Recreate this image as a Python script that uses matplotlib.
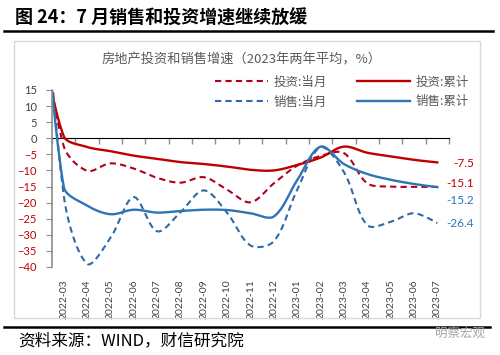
import numpy as np
import matplotlib.pyplot as plt
from matplotlib.lines import Line2D
from matplotlib.patches import Rectangle

plt.rcParams['font.family'] = ['Noto Sans CJK SC', 'DejaVu Sans']

# 2022-02 sits left of the axis, only the top of its line shows
months = ['2022-02', '2022-03', '2022-04', '2022-05', '2022-06', '2022-07', '2022-08',
          '2022-09', '2022-10', '2022-11', '2022-12', '2023-01', '2023-02', '2023-03',
          '2023-04', '2023-05', '2023-06', '2023-07']
inv_month = [40, -2.4, -10.1, -7.8, -9.4, -12.3, -13.8, -12.1, -16.0, -19.9, -14.0,
             -8.5, -5.5, -4.6, -14.0, -15.0, -15.1, -15.1]
inv_cum = [35, 0.7, -2.7, -4.0, -5.4, -6.4, -7.4, -8.0, -8.8, -9.8, -10.0,
           -8.3, -6.0, -2.6, -4.5, -5.6, -6.7, -7.5]
sales_month = [72, -17.7, -39.0, -31.0, -18.3, -28.9, -23.0, -16.2, -23.2, -33.3, -32.0,
               -16.0, -2.8, -10.5, -27.0, -26.0, -23.3, -26.4]
sales_cum = [65, -15.0, -20.9, -23.6, -22.2, -23.1, -22.6, -22.2, -22.3, -23.3, -24.3,
             -13.0, -2.6, -8.0, -11.1, -12.9, -14.2, -15.2]

RED = '#C00000'
RED_D = '#B0001E'
BLUE = '#2E75B6'
BLUE_D = '#2F69A8'
GRAY = '#8C8C8C'
TXT = '#404040'


def smooth(x, y, n=30, sx=23.35, sy=3.22):
    # excel-like smoothed line: bezier arms sized by neighbouring segment lengths
    P = np.column_stack([np.asarray(x, float) * sx, np.asarray(y, float) * sy])
    m = len(P)
    cin = P.copy()
    cout = P.copy()
    for i in range(1, m - 1):
        d = P[i + 1] - P[i - 1]
        l1 = np.linalg.norm(P[i] - P[i - 1])
        l2 = np.linalg.norm(P[i + 1] - P[i])
        cout[i] = P[i] + d * l2 / (l1 + l2) / 3
        cin[i] = P[i] - d * l1 / (l1 + l2) / 3
    t = np.linspace(0, 1, n)[:, None]
    pts = []
    for i in range(m - 1):
        b = ((1 - t) ** 3 * P[i] + 3 * (1 - t) ** 2 * t * cout[i]
             + 3 * (1 - t) * t ** 2 * cin[i + 1] + t ** 3 * P[i + 1])
        pts.append(b)
    pts = np.vstack(pts)
    return pts[:, 0] / sx, pts[:, 1] / sy


fig = plt.figure(figsize=(5, 3.55), dpi=100)

# title and rules
fig.text(0.03, 0.948, '图 24：7 月销售和投资增速继续放缓', fontsize=13, fontweight='bold',
         va='center', ha='left')
fig.add_artist(Line2D([0.008, 0.986], [0.912, 0.912], color='black', lw=1.8))
fig.add_artist(Line2D([0.008, 0.98], [0.079, 0.079], color='black', lw=1.8))
fig.add_artist(Rectangle((0.028, 0.104), 0.932, 0.78, fill=False, edgecolor='#D9D9D9', lw=1))
fig.text(0.036, 0.04, '资料来源：WIND，财信研究院', fontsize=12, style='italic',
         va='center', ha='left', color='black')
fig.text(0.92, 0.062, '明察宏观', fontsize=9, color='#A6A6A6', va='center', ha='center')

fig.text(0.484, 0.831, '房地产投资和销售增速（2023年两年平均，%）', fontsize=9.5,
         color='#595959', ha='center', va='center')

ax = fig.add_axes([0.104, 0.2479, 0.794, 0.4986])
xpos = np.arange(len(months)) - 1

lines = []
for vals, col, ls, lw, lab in [(inv_month, RED_D, (0, (3, 2)), 1.5, '投资:当月'),
                               (sales_month, BLUE_D, (0, (3, 2)), 1.5, '销售:当月'),
                               (inv_cum, RED, '-', 1.7, '投资:累计'),
                               (sales_cum, BLUE, '-', 1.7, '销售:累计')]:
    sx, sy = smooth(xpos, vals)
    ln, = ax.plot(sx, sy, color=col, ls=ls, lw=lw, label=lab)
    lines.append(ln)

ax.set_xlim(-0.5, len(months) - 1.5)
ax.set_ylim(-40, 15)

ax.set_xticks(xpos[1:])
ax.set_xticklabels(months[1:], rotation=90, fontsize=7.5, color=TXT, family='Lato')
ax.tick_params(axis='x', length=0, pad=9)

ax.set_yticks(np.arange(-40, 16, 5))
ax.tick_params(axis='y', direction='out', length=4, color=GRAY, pad=7, labelsize=8)
for lab, v in zip(ax.get_yticklabels(), np.arange(-40, 16, 5)):
    lab.set_family('Lato')
    lab.set_color(RED if v < 0 else TXT)

for s in ['top', 'right', 'bottom']:
    ax.spines[s].set_visible(False)
ax.spines['left'].set_color(GRAY)
ax.spines['left'].set_linewidth(1.2)

# category axis drawn through zero
sec = ax.secondary_xaxis(40 / 55)
sec.set_xticks(np.arange(-0.5, len(months) - 1, 1))
sec.set_xticklabels([])
sec.tick_params(direction='in', length=4, color=GRAY, labelbottom=False, labeltop=False, width=1)
sec.spines['bottom'].set_color(GRAY)
sec.spines['bottom'].set_linewidth(1.2)

# end value labels
ends = [(inv_cum[-1], -7.8, RED), (inv_month[-1], -14.2, RED),
        (sales_cum[-1], -19.4, BLUE), (sales_month[-1], -26.4, BLUE)]
for v, ypos, col in ends:
    ax.text(17.57, ypos, f'{v:.1f}', color=col, fontsize=8.5, family='Lato',
            ha='right', va='center', clip_on=False)

ax.legend(handles=lines, ncol=2, frameon=False, fontsize=9, labelcolor='#595959',
          loc='upper left', bbox_to_anchor=(0.43, 0.787), bbox_transform=fig.transFigure,
          handlelength=4.2, handletextpad=0.5, columnspacing=2.4, labelspacing=0.55,
          borderpad=0, borderaxespad=0)

fig.savefig('out.png', dpi=100)
